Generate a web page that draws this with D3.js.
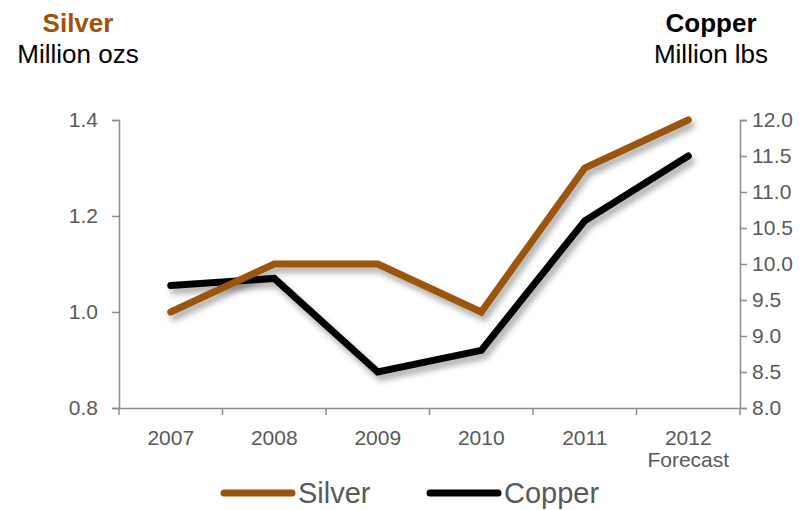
<!DOCTYPE html>
<html>
<head>
<meta charset="utf-8">
<script src="https://cdn.jsdelivr.net/npm/d3@7"></script>
<style>
  body { margin: 0; background: #fff; }
  svg text { font-family: "Liberation Sans", Arial, sans-serif; }
</style>
</head>
<body>
<svg id="chart"></svg>
<script>
const years = ['2007', '2008', '2009', '2010', '2011', '2012'];
const silver = [1.0, 1.1, 1.1, 1.0, 1.3, 1.4];
const copper = [9.7, 9.8, 8.5, 8.8, 10.6, 11.5];
const leftTicks = [0.8, 1.0, 1.2, 1.4];
const rightTicks = [8.0, 8.5, 9.0, 9.5, 10.0, 10.5, 11.0, 11.5, 12.0];

const svgWidth = 810;
const svgHeight = 510;
const margin = { top: 120, right: 70, bottom: 102, left: 119 };
const width = svgWidth - margin.left - margin.right;
const height = svgHeight - margin.top - margin.bottom;

const silverColor = '#9c5409';
const axisColor = '#8c8c8c';
const labelColor = '#595959';
const tickFont = 21;

const root = d3.select('#chart')
  .attr('width', svgWidth)
  .attr('height', svgHeight);

// drop shadow for the lines
const filter = root.append('defs').append('filter')
  .attr('id', 'shadow')
  .attr('x', '-10%').attr('y', '-10%')
  .attr('width', '130%').attr('height', '140%');
filter.append('feDropShadow')
  .attr('dx', 3).attr('dy', 5)
  .attr('stdDeviation', 3)
  .attr('flood-color', '#000')
  .attr('flood-opacity', 0.35);

const svg = root.append('g')
  .attr('transform', `translate(${margin.left},${margin.top})`);

// scales
const x = d3.scaleBand().domain(years).range([0, width]);
const yLeft = d3.scaleLinear().domain([0.8, 1.4]).range([height, 0]);
const yRight = d3.scaleLinear().domain([8, 12]).range([height, 0]);

// axes
const xAxis = svg.append('g')
  .attr('transform', `translate(0,${height})`)
  .call(d3.axisBottom(x).tickSize(0).tickPadding(22));

// boundary ticks between categories
xAxis.selectAll('.boundary')
  .data(d3.range(years.length + 1))
  .enter()
  .append('line')
  .attr('class', 'boundary')
  .attr('x1', (i) => i * x.step())
  .attr('x2', (i) => i * x.step())
  .attr('y1', 0)
  .attr('y2', 7)
  .attr('stroke', axisColor)
  .attr('stroke-width', 1.5);

xAxis.append('text')
  .attr('x', x('2012') + x.bandwidth() / 2)
  .attr('y', 59)
  .attr('text-anchor', 'middle')
  .attr('fill', labelColor)
  .style('font-size', `${tickFont}px`)
  .text('Forecast');

svg.append('g')
  .call(d3.axisLeft(yLeft).tickValues(leftTicks).tickFormat(d3.format('.1f')).tickSizeOuter(0).tickSize(7).tickPadding(14));

svg.append('g')
  .attr('transform', `translate(${width},0)`)
  .call(d3.axisRight(yRight).tickValues(rightTicks).tickFormat(d3.format('.1f')).tickSizeOuter(0).tickSize(7).tickPadding(5));

svg.selectAll('.domain')
  .attr('stroke', axisColor)
  .attr('stroke-width', 1.5);
svg.selectAll('.tick line')
  .attr('stroke', axisColor)
  .attr('stroke-width', 1.5);
svg.selectAll('.tick text')
  .attr('fill', labelColor)
  .style('font-size', `${tickFont}px`);

// lines
const cx = (d, i) => x(years[i]) + x.bandwidth() / 2;

svg.append('path')
  .datum(copper)
  .attr('fill', 'none')
  .attr('stroke', '#000')
  .attr('stroke-width', 7)
  .attr('stroke-linecap', 'round')
  .attr('filter', 'url(#shadow)')
  .attr('d', d3.line().x(cx).y((d) => yRight(d)));

svg.append('path')
  .datum(silver)
  .attr('fill', 'none')
  .attr('stroke', silverColor)
  .attr('stroke-width', 7)
  .attr('stroke-linecap', 'round')
  .attr('filter', 'url(#shadow)')
  .attr('d', d3.line().x(cx).y((d) => yLeft(d)));

// axis titles
const titles = [
  { x: 78, label: 'Silver', unit: 'Million ozs', color: silverColor },
  { x: 711, label: 'Copper', unit: 'Million lbs', color: '#000' }
];
titles.forEach((t) => {
  root.append('text')
    .attr('x', t.x).attr('y', 32)
    .attr('text-anchor', 'middle')
    .attr('fill', t.color)
    .style('font-size', '26px')
    .style('font-weight', 'bold')
    .text(t.label);
  root.append('text')
    .attr('x', t.x).attr('y', 63)
    .attr('text-anchor', 'middle')
    .attr('fill', '#000')
    .style('font-size', '26px')
    .text(t.unit);
});

// legend
const legend = [
  { name: 'Silver', color: silverColor, x: 224 },
  { name: 'Copper', color: '#000', x: 430 }
];
const lg = root.append('g').attr('transform', 'translate(0,493)');
legend.forEach((l) => {
  lg.append('line')
    .attr('x1', l.x).attr('x2', l.x + 68)
    .attr('y1', 0).attr('y2', 0)
    .attr('stroke', l.color)
    .attr('stroke-width', 7)
    .attr('stroke-linecap', 'round');
  lg.append('text')
    .attr('x', l.x + 74).attr('y', 10)
    .attr('fill', labelColor)
    .style('font-size', '29px')
    .text(l.name);
});
</script>
</body>
</html>
